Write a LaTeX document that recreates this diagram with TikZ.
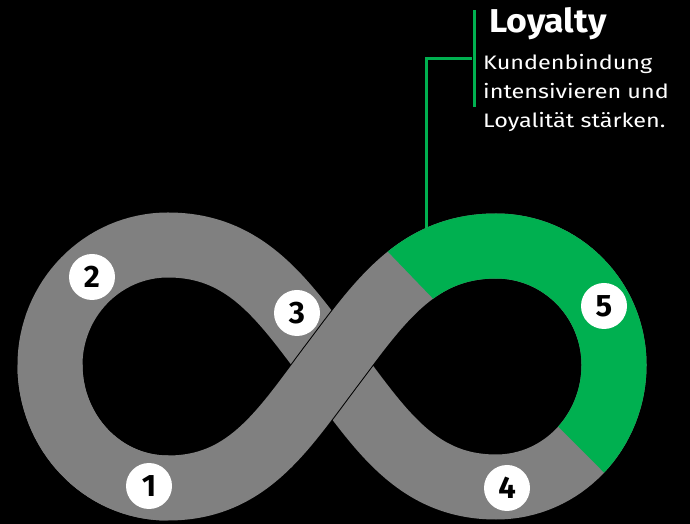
\documentclass[tikz,border=0pt]{standalone}
\usepackage{fontspec}
\setmainfont{Fira Sans}
\newfontfamily\titlefont[FakeStretch=1.08]{Fira Sans}
\newfontfamily\bodyfont[FakeStretch=1.2]{Fira Sans}
\definecolor{bandgray}{HTML}{808080}
\definecolor{loyalgreen}{HTML}{00B050}
\begin{document}
\begin{tikzpicture}[x=1pt,y=1pt,line cap=butt,
    band/.style={line width=65pt,bandgray},
    num/.style={circle,fill=white,minimum size=46pt,inner sep=0pt,
      font=\fontsize{31}{31}\selectfont\bfseries}]
  % background
  \useasboundingbox (0,0) rectangle (690,524);
  \fill[black] (0,0) rectangle (690,524);

  % key points of the figure eight
  \coordinate (lt) at (168,279);
  \coordinate (ll) at (50,159);
  \coordinate (lb) at (168,36);
  \coordinate (cx) at (332,159);
  \coordinate (rt) at (496,278);
  \coordinate (rr) at (614,159);
  \coordinate (rb) at (496,37);
  \coordinate (cb) at (426,270);

  % callout to the text
  \node[fill=loyalgreen,minimum width=3pt,minimum height=97pt,inner sep=0pt] (bar) at (474,465.5) {};
  \draw[loyalgreen,line width=3pt] (cb) |- (bar.west);

  % loops and the lower strand
  \draw[band] (lb) to[out=180,in=270] (ll) to[out=90,in=180] (lt)
    to[out=0,in=127] (cx) to[out=-53,in=180] (rb)
    to[out=0,in=270] (rr) to[out=90,in=0] (rt);

  % upper strand with thin dark edges at the crossing
  \begin{scope}
    \clip (cx) circle (90);
    \draw[line width=67pt,black] (lb) to[out=0,in=233] (cx) to[out=53,in=180] (rt);
  \end{scope}
  \draw[band] (ll) to[out=270,in=180] (lb) to[out=0,in=233] (cx)
    to[out=53,in=180] (rt);

  % green part (5)
  \begin{scope}
    \clip (496,160) -- (340,322) -- (700,322) -- (700,-45) -- cycle;
    \draw[band,loyalgreen] (cx) to[out=53,in=180] (rt) to[out=0,in=90] (rr)
      to[out=270,in=0] (rb);
  \end{scope}

  % numbers
  \node[num] (n1) at (149,38) {1};
  \node[num] (n2) at (92,247) {2};
  \node[num] (n3) at (297,211) {3};
  \node[num] (n4) at (507,36) {4};
  \node[num] (n5) at (604,218) {5};

  % text
  \node[anchor=base west,inner sep=0pt,white,
    font=\titlefont\fontsize{33}{33}\selectfont\bfseries] (ttl) at (489,491) {Loyalty};
  \node[anchor=north west,inner sep=0pt,white,align=left,
    font=\bodyfont\fontsize{19.5}{29}\selectfont] (txt) at (483,469.5)
    {Kundenbindung\\intensivieren und\\Loyalität stärken.};
\end{tikzpicture}
\end{document}
